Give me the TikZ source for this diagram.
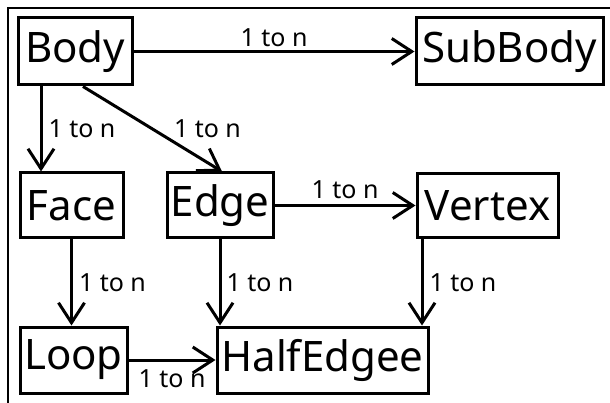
\documentclass[tikz,border=0pt]{standalone}
\usepackage{fontspec}
\setmainfont{Noto Sans}
\usetikzlibrary{arrows.meta}
\begin{document}
\begin{tikzpicture}[x=1pt,y=-1pt,
  box/.style={draw, line width=3pt, inner sep=0pt, font=\fontsize{42}{44}\selectfont},
  conn/.style={line width=3pt, -{Straight Barb[length=20pt,width=26pt,line width=3pt]}},
  lbl/.style={inner sep=0pt, font=\fontsize{25}{27}\selectfont}]
\useasboundingbox (0,0) rectangle (610,403);
\draw[line width=2.5pt] (8,403) -- (8,8) -- (610,8);
\node[box, minimum width=114pt, minimum height=67pt] (Body) at (75,51.5) {Body};
\node[box, minimum width=187pt, minimum height=67pt] (SubBody) at (509.5,51.5) {SubBody};
\node[box, minimum width=103pt, minimum height=65pt] (Face) at (71.5,205.5) {Face};
\node[box, minimum width=106pt, minimum height=65pt] (Edge) at (220,205.5) {Edge};
\node[box, minimum width=141pt, minimum height=64pt] (Vertex) at (487.5,205.5) {Vertex};
\node[box, minimum width=107pt, minimum height=66pt] (Loop) at (73.5,360) {Loop};
\node[box, minimum width=211pt, minimum height=66pt] (HalfEdgee) at (322.5,360) {HalfEdgee};
\coordinate (xbf) at (41,0);
\coordinate (xvh) at (422,0);
\draw[conn] (Body.east) -- (SubBody.west) node[lbl, midway, yshift=14pt] {1 to n};
\draw[conn] (Body.south -| xbf) -- (Face.north -| xbf) node[lbl, midway, anchor=west, xshift=6pt] {1 to n};
\draw[conn] ([xshift=8pt]Body.south) -- ([xshift=2pt]Edge.north) node[lbl, midway, anchor=west, xshift=20pt] {1 to n};
\draw[conn] (Edge.east) -- (Vertex.west) node[lbl, midway, yshift=16pt] {1 to n};
\draw[conn] (Face.south) -- (Loop.north -| Face.south) node[lbl, midway, anchor=west, xshift=6pt] {1 to n};
\draw[conn] (Edge.south) -- (HalfEdgee.north -| Edge.south) node[lbl, midway, anchor=west, xshift=5pt] {1 to n};
\draw[conn] (Vertex.south -| xvh) -- (HalfEdgee.north -| xvh) node[lbl, midway, anchor=west, xshift=6pt] {1 to n};
\draw[conn] (Loop.east) -- (HalfEdgee.west) node[lbl, midway, yshift=-19pt] {1 to n};
\end{tikzpicture}
\end{document}
